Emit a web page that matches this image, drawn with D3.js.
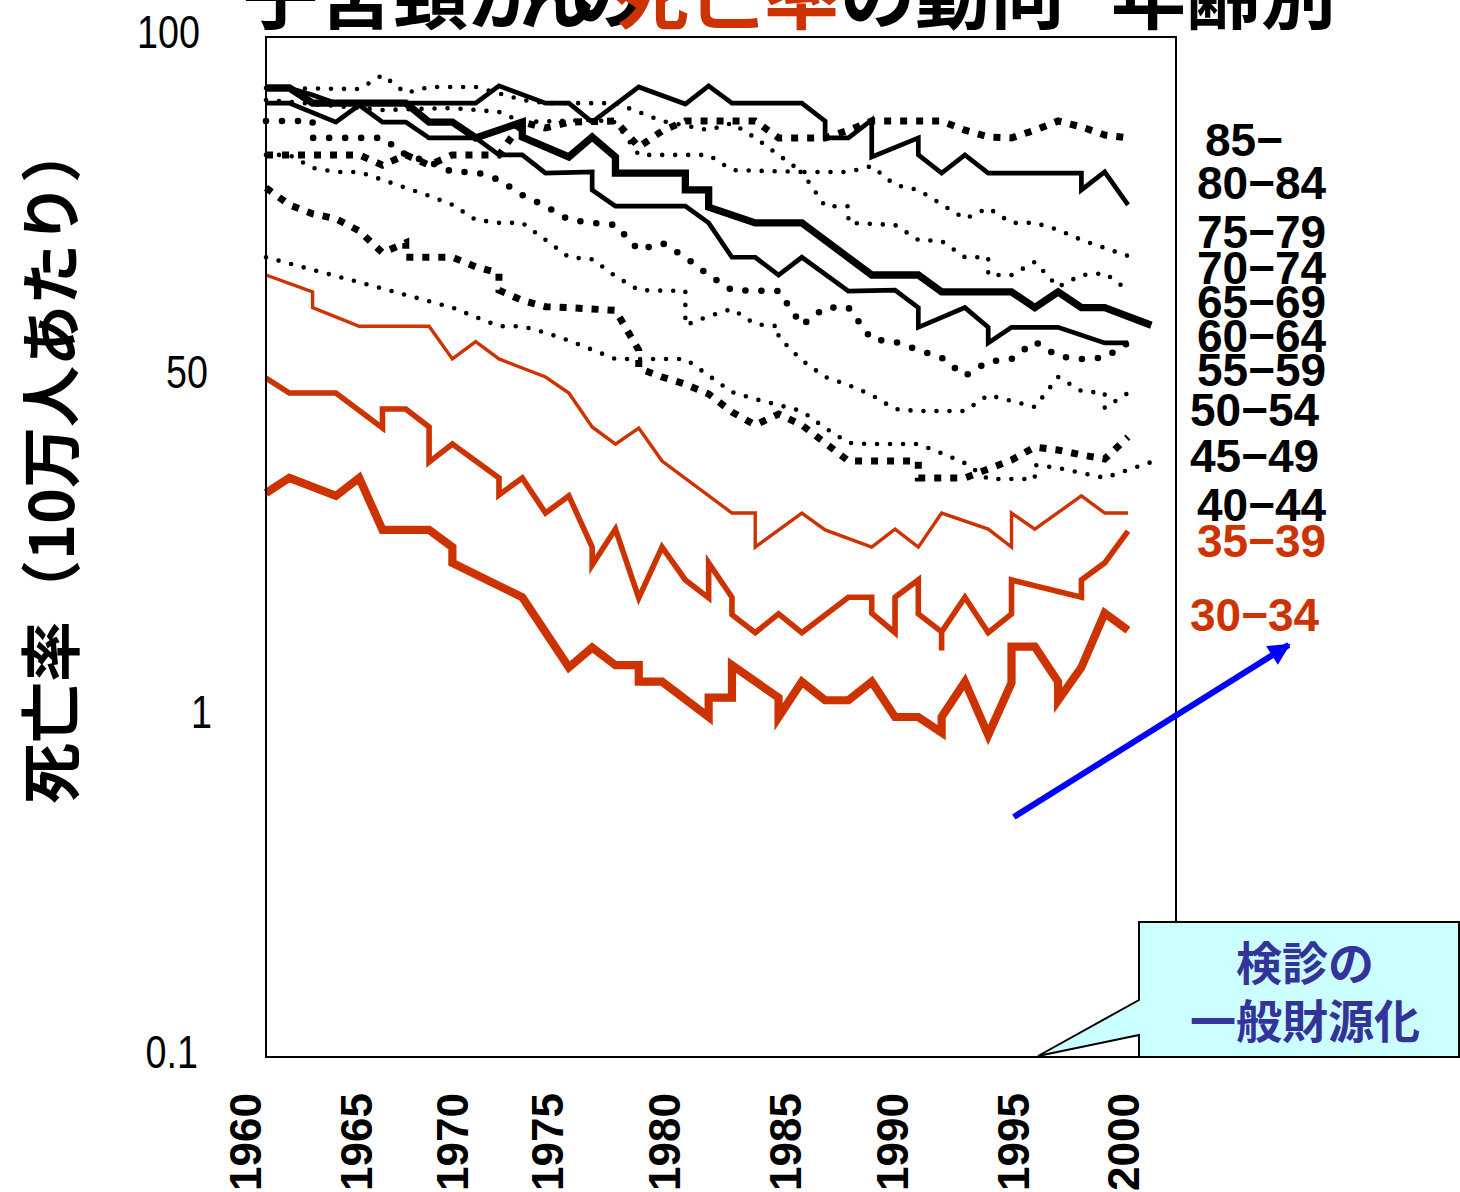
<!DOCTYPE html>
<html><head><meta charset="utf-8">
<script src="https://cdn.jsdelivr.net/npm/d3@7"></script>
<style>body{margin:0;background:#fff;} svg{display:block;}</style>
</head><body>
<svg id="chart" width="1460" height="1192"></svg>
<script>
// ---- data -------------------------------------------------------------
// x is the survey step (0 = 1960 … 37 = 2000); y is deaths per 100,000.
// A repeated step means the rate was restated in that year (vertical jump).
const tickLabels = ["1960","1965","1970","1975","1980","1985","1990","1995","2000"];
const tickSteps  = [-0.9, 3.9, 8.0, 12.1, 17.1, 22.3, 26.9, 32.1, 36.8];
const yTickValues = [0.1, 1, 10, 100];
const yTickText   = ["0.1", "1", "50", "100"];
const ageLabels   = ["85−","80−84","75−79","70−74","65−69","60−64","55−59","50−54","45−49","40−44","35−39","30−34"];

const age85 = [[0,45.0],[4,45.0],[5,42.0],[6,45.0],[7,42.0],[8,45.0],[10,45.0],[11,56.2],[12,54.0],[13,56.2],[15,56.6],[16,47.5],[17,52.9],[18,56.6],[21,56.6],[22,50.5],[24,50.5],[25,53.2],[26,56.6],[29,56.6],[30,53.2],[31,50.8],[32,50.5],[33,53.2],[34,56.6],[35,54.4],[36,51.5],[37,50.5]];
const age80 = [[0,70.8],[1,70.8],[2,67.5],[3,63.9],[9,63.9],[10,71.8],[12,63.9],[13,63.9],[14,56.2],[16,71.3],[18,63.5],[19,71.8],[20,63.9],[23,63.9],[24,56.6],[24,50.5],[25,50.5],[26,57.0],[26,44.4],[28,50.5],[28,45.0],[29,39.8],[30,45.0],[31,39.8],[35,39.8],[35,35.5],[36,40.1],[37,32.1]];
const age75 = [[0,70.8],[4,70.3],[5,77.3],[6,68.4],[7,71.3],[9,71.3],[11,65.3],[12,63.9],[15,63.9],[17,56.6],[19,53.2],[20,55.8],[21,50.5],[22,45.0],[23,40.1],[25,40.1],[26,41.7],[27,36.7],[28,35.5],[30,29.2],[31,31.4],[32,28.4],[33,28.4],[34,27.1],[35,25.3],[37,22.7]];
const age70 = [[0,65.3],[5,61.0],[8,61.8],[10,60.2],[11,56.2],[14,57.0],[15,56.2],[16,45.0],[19,45.0],[20,40.6],[23,40.1],[24,31.8],[25,31.8],[25,28.4],[27,28.0],[28,25.3],[29,25.1],[30,22.5],[31,22.5],[31,19.95],[32,19.95],[33,21.8],[34,18.4],[35,19.95],[36,20.2],[37,18.0]];
const age65 = [[0,70.8],[1,70.8],[2,63.9],[6,63.9],[7,56.2],[8,56.2],[9,50.5],[11,56.2],[11,50.8],[13,44.4],[14,50.8],[15,44.4],[15,39.8],[18,39.8],[18,35.5],[19,35.5],[19,31.6],[21,28.4],[23,28.4],[26,19.95],[28,19.95],[29,17.8],[32,17.8],[33,16.0],[34,17.8],[35,16.0],[36,16.0],[38,14.2]];
const age60 = [[0,63.9],[1,63.9],[3,56.2],[4,63.1],[5,56.2],[6,56.2],[7,50.5],[9,50.5],[10,45.0],[11,45.0],[12,39.8],[14,40.1],[14,35.5],[15,31.8],[18,31.8],[19,28.4],[20,22.5],[21,22.5],[22,19.95],[23,22.5],[25,17.9],[27,18.0],[28,16.0],[28,14.0],[30,16.0],[31,14.0],[31,12.6],[32,14.0],[34,14.0],[36,12.6],[37,12.6]];
const age55 = [[0,56.6],[2,56.6],[2,50.5],[5,50.5],[6,45.0],[7,42.9],[8,40.1],[9,40.1],[10,38.0],[11,34.3],[12,31.8],[13,29.0],[14,28.4],[15,28.0],[16,23.6],[17,24.8],[18,22.5],[19,19.95],[20,18.0],[22,17.9],[23,14.2],[24,16.0],[25,16.0],[26,12.9],[27,12.7],[28,12.0],[29,11.4],[30,10.07],[31,11.1],[32,11.3],[33,12.7],[34,11.5],[35,11.3],[36,11.4],[37,12.6]];
const age50 = [[0,45.0],[1,45.0],[2,41.2],[3,40.1],[4,40.1],[5,38.0],[6,36.0],[7,34.1],[8,32.1],[9,29.0],[10,28.4],[11,28.4],[12,25.3],[13,22.5],[14,22.2],[15,19.8],[16,18.0],[18,17.9],[18,14.2],[19,15.1],[20,15.85],[21,14.3],[22,14.1],[22,13.1],[23,11.2],[24,10.0],[25,9.47],[26,8.85],[27,8.05],[28,7.94],[30,7.94],[31,8.85],[32,8.50],[33,8.16],[34,10.0],[35,9.09],[36,8.97],[36,8.11],[37,8.97]];
const age45 = [[0,36.0],[1,32.1],[2,30.2],[3,29.2],[4,26.9],[5,23.2],[6,24.8],[6,22.5],[8,22.5],[9,21.1],[10,20.2],[10,18.0],[11,16.8],[12,16.1],[13,16.0],[15,15.7],[16,12.0],[16,10.6],[17,10.0],[18,9.53],[19,8.91],[20,7.89],[21,7.22],[22,7.78],[23,7.22],[24,6.40],[25,5.66],[28,5.66],[28,5.05],[30,5.05],[31,5.36],[32,5.70],[33,6.22],[34,6.10],[35,5.90],[36,5.74],[37,6.66]];
const age40 = [[0,22.5],[4,19.0],[8,16.0],[10,14.1],[11,14.1],[12,13.5],[13,12.8],[15,11.3],[18,11.3],[19,10.1],[20,9.03],[21,8.61],[22,8.27],[23,7.94],[24,7.08],[25,6.40],[26,6.35],[28,6.35],[29,5.97],[30,5.58],[31,5.01],[33,5.01],[33,5.51],[34,5.40],[36,5.05],[37,5.33],[38,5.62]];
const red40 = [[0,19.95],[2,17.8],[2,16.0],[4,14.1],[7,14.1],[8,11.3],[9,12.7],[10,11.3],[12,10.0],[13,8.97],[14,7.13],[15,6.35],[16,7.08],[17,5.66],[20,3.98],[21,3.98],[21,3.16],[23,3.98],[24,3.55],[26,3.16],[27,3.57],[28,3.16],[29,3.98],[31,3.57],[32,3.16],[32,3.98],[33,3.57],[35,4.47],[36,3.98],[37,3.98]];
const red35 = [[0,9.93],[1,8.97],[3,8.97],[5,7.08],[5,8.05],[6,8.05],[7,7.13],[7,5.62],[8,6.35],[10,5.05],[10,4.50],[11,5.05],[12,3.98],[13,4.47],[14,3.16],[14,2.80],[15,3.57],[16,2.24],[17,3.16],[18,2.53],[19,2.24],[19,2.84],[20,2.25],[20,2.0],[21,1.77],[22,2.01],[23,1.77],[25,2.25],[26,2.25],[26,2.02],[27,1.77],[27,2.25],[28,2.53],[28,2.01],[29,1.78],[29,1.57],[29,1.78],[30,2.25],[31,1.77],[32,2.01],[32,2.53],[35,2.25],[35,2.53],[36,2.84],[37,3.52]];
const red30 = [[0,4.56],[1,5.05],[3,4.47],[4,5.05],[5,3.55],[7,3.55],[8,3.16],[8,2.84],[11,2.25],[13,1.40],[14,1.60],[15,1.42],[16,1.42],[16,1.27],[17,1.27],[19,1.0],[19,1.14],[20,1.14],[20,1.42],[22,1.14],[22,1.0],[23,1.27],[24,1.12],[25,1.12],[26,1.27],[27,1.0],[28,1.0],[29,0.90],[29,1.0],[30,1.27],[31,0.885],[32,1.26],[32,1.61],[33,1.61],[34,1.27],[34,1.12],[35,1.40],[36,2.02],[37,1.80]];

// ---- layout -----------------------------------------------------------
const RED = "#CC3300";
const svg = d3.select("#chart");
const plot = {left: 266, right: 1176, top: 37, bottom: 1057};
const x = d3.scaleLinear().domain([0, 37]).range([266, 1128]);
const y = d3.scaleLog().domain([0.1, 100]).range([plot.bottom, plot.top]);

const styles = {
  square:  {stroke: "#000", width: 7,   dash: "7 9",  cap: "butt"},
  bigDot:  {stroke: "#000", width: 6.6, dash: "0 16", cap: "round"},
  dot:     {stroke: "#000", width: 4.6, dash: "0 13", cap: "round"},
  solid:   {stroke: "#000", width: 4.7, dash: null,   cap: "butt"},
  heavy:   {stroke: "#000", width: 7.3, dash: null,   cap: "butt"},
  redThin: {stroke: RED,    width: 3.4, dash: null,   cap: "butt"},
  redMid:  {stroke: RED,    width: 5.6, dash: null,   cap: "butt"},
  redBold: {stroke: RED,    width: 8.2, dash: null,   cap: "butt"}
};
const series = [
  {data: age85, style: "square"},
  {data: age80, style: "solid"},
  {data: age75, style: "dot"},
  {data: age70, style: "dot"},
  {data: age65, style: "heavy"},
  {data: age60, style: "solid"},
  {data: age55, style: "bigDot"},
  {data: age50, style: "dot"},
  {data: age45, style: "square"},
  {data: age40, style: "dot"},
  {data: red40, style: "redThin"},
  {data: red35, style: "redMid"},
  {data: red30, style: "redBold"}
];

const line = d3.line().x(d => x(d[0])).y(d => y(d[1]));
svg.append("g").selectAll("path").data(series).join("path")
  .attr("d", d => line(d.data))
  .attr("fill", "none")
  .attr("stroke", d => styles[d.style].stroke)
  .attr("stroke-width", d => styles[d.style].width)
  .attr("stroke-dasharray", d => styles[d.style].dash)
  .attr("stroke-linecap", d => styles[d.style].cap)
  .attr("stroke-linejoin", "miter");

// plot frame
svg.append("rect")
  .attr("x", plot.left).attr("y", plot.top)
  .attr("width", plot.right - plot.left).attr("height", plot.bottom - plot.top)
  .attr("fill", "none").attr("stroke", "#000").attr("stroke-width", 2);

// y tick labels
const yTickRight = [198, 212, 208, 200];
svg.append("g").selectAll("text").data(yTickValues).join("text")
  .attr("transform", (d, i) => `translate(${yTickRight[i]},${y(d) - 5}) scale(0.82,1)`)
  .attr("text-anchor", "end").attr("dominant-baseline", "central")
  .attr("font-family", "Liberation Sans, Arial, sans-serif")
  .attr("font-size", 46)
  .text((d, i) => yTickText[i]);

// x tick labels (rotated)
svg.append("g").selectAll("text").data(tickLabels).join("text")
  .attr("transform", (d, i) => `translate(${x(tickSteps[i])},1093) rotate(-90)`)
  .attr("text-anchor", "end").attr("dominant-baseline", "central")
  .attr("font-family", "Liberation Sans, Arial, sans-serif")
  .attr("font-weight", "bold").attr("font-size", 44)
  .text(d => d);

// age-group labels on the right
const labelY = [140, 183, 232, 268, 302, 336, 370, 410, 456, 505, 541, 615];
const labelX = [1205, 1197, 1197, 1197, 1197, 1197, 1197, 1190, 1190, 1197, 1197, 1190];
svg.append("g").selectAll("text").data(ageLabels).join("text")
  .attr("x", (d, i) => labelX[i]).attr("y", (d, i) => labelY[i])
  .attr("dominant-baseline", "central")
  .attr("font-family", "Liberation Sans, Arial, sans-serif")
  .attr("font-weight", "bold").attr("font-size", 46)
  .attr("fill", (d, i) => i >= 10 ? RED : "#000")
  .text(d => d);

// y-axis title
svg.append("text")
  .attr("transform", "translate(47,463) rotate(-90)")
  .attr("text-anchor", "middle").attr("dominant-baseline", "central")
  .attr("font-family", "Noto Sans CJK JP, sans-serif")
  .attr("font-weight", "bold").attr("font-size", 61)
  .text("死亡率（10万人あたり）");

// title (runs off the top edge)
const title = svg.append("text")
  .attr("y", 23)
  .attr("font-family", "Noto Sans CJK JP, sans-serif")
  .attr("font-weight", "bold").attr("font-size", 75);
title.append("tspan").attr("x", 243).attr("fill", "#000").text("子宮頸");
title.append("tspan").attr("x", 468).attr("fill", "#000").attr("letter-spacing", -24).text("がんの");
title.append("tspan").attr("x", 614).attr("fill", RED).attr("letter-spacing", 0).text("死亡率");
title.append("tspan").attr("x", 840).attr("fill", "#000").text("の動向");
title.append("tspan").attr("x", 1111).attr("fill", "#000").text("年齢別");

// blue arrow
svg.append("defs").append("marker")
  .attr("id", "head").attr("markerUnits", "userSpaceOnUse")
  .attr("viewBox", "0 0 10 10").attr("refX", 9).attr("refY", 5)
  .attr("markerWidth", 28).attr("markerHeight", 22).attr("orient", "auto")
  .append("path").attr("d", "M0,0 L10,5 L0,10 Z").attr("fill", "#0000FF");
svg.append("line")
  .attr("x1", x(32.1)).attr("y1", y(0.508))
  .attr("x2", x(43.9)).attr("y2", y(1.63))
  .attr("stroke", "#0000FF").attr("stroke-width", 6)
  .attr("marker-end", "url(#head)");

// callout
svg.append("path")
  .attr("d", "M1139,922 L1459,922 L1459,1057 L1139,1057 L1139,1035 L1038,1056 L1139,1000 Z")
  .attr("fill", "#CCFFFF").attr("stroke", "#000").attr("stroke-width", 2);
const callout = svg.append("text")
  .attr("text-anchor", "middle")
  .attr("font-family", "Noto Sans CJK JP, sans-serif")
  .attr("font-weight", "bold").attr("font-size", 46).attr("fill", "#333399");
callout.append("tspan").attr("x", 1305).attr("y", 980).text("検診の");
callout.append("tspan").attr("x", 1305).attr("y", 1038).text("一般財源化");
</script>
</body></html>
